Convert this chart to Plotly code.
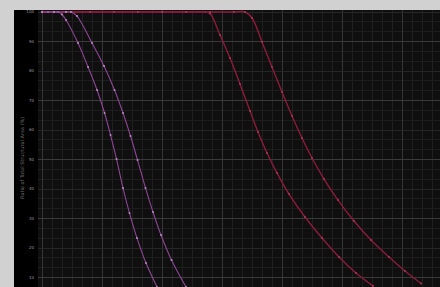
import plotly.graph_objects as go

# Curve data (x in arbitrary units, y = ratio in %)
a_x = [0.0, 1.0, 2.0, 2.67, 3.33, 4.0, 6.0, 7.67, 9.17, 10.42, 11.42, 12.42, 13.5, 14.58, 15.83, 17.33, 19.17]
a_y = [100, 100, 100, 100, 99.15, 97.29, 89.49, 81.36, 73.56, 65.76, 58.31, 50.17, 40.34, 31.86, 23.39, 14.92, 6.78]

b_x = [0.0, 2.0, 4.0, 4.83, 5.83, 8.33, 10.33, 12.08, 13.5, 14.75, 15.92, 17.25, 18.5, 19.83, 21.58, 24.0]
b_y = [100, 100, 100, 100, 98.64, 89.49, 81.69, 73.56, 65.76, 57.97, 49.83, 40.34, 32.2, 24.41, 15.93, 6.78]

c_x = [0.0, 4.0, 8.0, 12.0, 16.0, 20.0, 24.0, 27.17, 28.0, 29.67, 31.33, 33.0, 34.67, 36.0, 37.5, 39.17,
       41.17, 43.83, 46.67, 49.5, 52.33, 55.17]
c_y = [100, 100, 100, 100, 100, 100, 100, 100, 99.49, 92.2, 84.41, 75.59, 66.44, 59.32, 52.2, 45.42,
       38.31, 30.51, 23.39, 16.95, 11.53, 7.12]

d_x = [0.0, 4.0, 8.0, 12.0, 16.0, 20.0, 24.0, 28.0, 32.0, 33.83, 35.0, 36.67, 38.33, 40.0, 41.67, 43.33,
       45.0, 47.0, 49.33, 52.0, 54.83, 57.83, 60.5, 63.17]
d_y = [100, 100, 100, 100, 100, 100, 100, 100, 100, 100, 97.97, 89.83, 81.36, 72.88, 64.75, 57.29,
       50.51, 43.39, 36.27, 29.15, 22.71, 16.95, 12.2, 7.97]

y_ticks = [10, 20, 30, 40, 50, 60, 70, 80, 90, 100]
y_title = "Ratio of Total Structural Area (%)"

PURPLE = "#8e4596"
PURPLE_M = "#b98cc2"
RED = "#8c1b3b"
RED_M = "#a8385a"

fig = go.Figure()

def add(xs, ys, lc, mc, w):
    fig.add_trace(go.Scatter(
        x=xs, y=ys, mode="lines+markers",
        line=dict(color=lc, width=w, shape="spline", smoothing=1.0),
        marker=dict(color=mc, size=2),
        showlegend=False, hoverinfo="skip"))

add(c_x, c_y, RED, RED_M, 1.4)
add(d_x, d_y, RED, RED_M, 1.4)
add(a_x, a_y, PURPLE, PURPLE_M, 1.1)
add(b_x, b_y, PURPLE, PURPLE_M, 1.1)

# invisible trace on second y axis so its grid is drawn
fig.add_trace(go.Scatter(x=[0], y=[50], yaxis="y2", mode="markers",
                         marker=dict(opacity=0), showlegend=False, hoverinfo="skip"))

YR = [6.8, 100.68]
fig.update_layout(
    width=440, height=287,
    margin=dict(l=38, r=0, t=10, b=0),
    paper_bgcolor="#d1d1d1",
    plot_bgcolor="#0f0f0f",
    xaxis=dict(range=[-0.67, 66.33], dtick=10, tick0=0, showticklabels=False,
               showgrid=True, gridcolor="#353535", gridwidth=1, zeroline=False,
               showline=False, ticks="",
               minor=dict(dtick=10/6, tick0=0, showgrid=True, gridcolor="#202020", gridwidth=1)),
    yaxis=dict(range=YR, tickvals=y_ticks, showgrid=True, gridcolor="#262626", gridwidth=1,
               zeroline=False, showline=False, ticks="",
               tickfont=dict(size=4, color="#9a9a9a", family="DejaVu Sans"),
               ticklabelstandoff=3,
               minor=dict(dtick=10/3, tick0=0, showgrid=True, gridcolor="#1d1d1d", gridwidth=1)),
    yaxis2=dict(range=YR, overlaying="y", dtick=20, tick0=10, showgrid=True,
                gridcolor="#3a3a3a", gridwidth=1, showticklabels=False, zeroline=False,
                ticks="", showline=False),
    shapes=[dict(type="rect", xref="paper", yref="paper", x0=-24/402, x1=0, y0=0, y1=1,
                 fillcolor="#000000", line=dict(width=0), layer="below")],
    annotations=[dict(text=y_title, xref="paper", yref="paper", x=-21/402, y=0.466,
                      textangle=-90, showarrow=False,
                      font=dict(size=5, color="#6a6a6a", family="DejaVu Sans"))],
)

fig.write_html(
    "out.html",
    config={"displayModeBar": False},
    post_script="document.body.style.margin='0';document.body.style.padding='0';"
                "document.body.style.overflow='hidden';document.body.style.background='#d1d1d1';",
)
